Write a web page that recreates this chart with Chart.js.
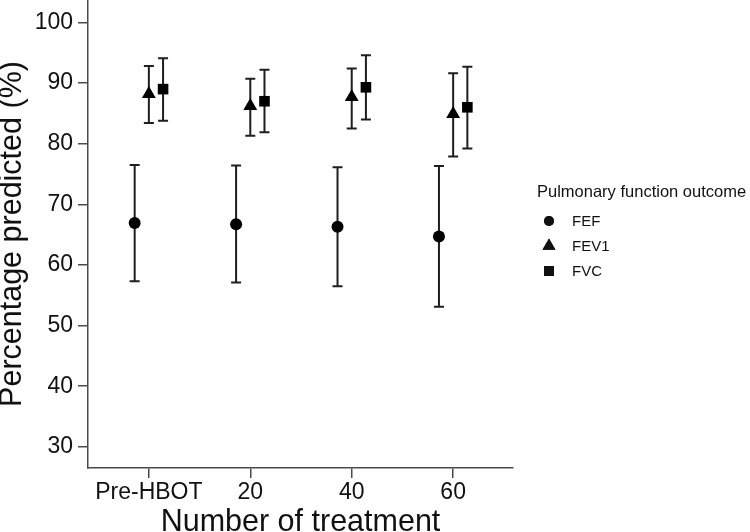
<!DOCTYPE html>
<html>
<head>
<meta charset="utf-8">
<script src="https://cdn.jsdelivr.net/npm/chart.js@4"></script>
<style>
  html, body { margin: 0; padding: 0; background: #fff; }
</style>
</head>
<body>
<canvas id="chart" width="750" height="532"></canvas>
<script>
const categories = ['Pre-HBOT', '20', '40', '60'];
const yTicks = [30, 40, 50, 60, 70, 80, 90, 100];

const fefMean = [66.9, 66.7, 66.3, 64.7];
const fefLow  = [57.3, 57.1, 56.5, 53.1];
const fefHigh = [76.5, 76.4, 76.1, 76.3];

const fev1Mean = [88.2, 86.2, 87.7, 84.9];
const fev1Low  = [83.4, 81.3, 82.5, 77.9];
const fev1High = [92.8, 90.7, 92.4, 91.6];

const fvcMean = [89.0, 87.0, 89.3, 86.0];
const fvcLow  = [83.8, 81.9, 84.0, 79.2];
const fvcHigh = [94.1, 92.2, 94.6, 92.7];

// horizontal dodge so the three groups don't overlap
const dodge = { FEF: -0.14, FEV1: 0, FVC: 0.14 };

const FONT = "'Liberation Sans', Arial, sans-serif";
const AXIS = '#4a4a4a';

function toPoints(mean, dx) {
    return mean.map((v, i) => ({ x: i + dx, y: v }));
}

// error bars drawn behind the markers
const errorBars = {
    id: 'errorBars',
    beforeDatasetsDraw(chart) {
        const ctx = chart.ctx;
        const xs = chart.scales.x, ys = chart.scales.y;
        ctx.save();
        ctx.strokeStyle = '#1e1e1e';
        ctx.lineWidth = 2;
        chart.data.datasets.forEach(ds => {
            ds.data.forEach((p, j) => {
                const x = xs.getPixelForValue(p.x);
                const lo = ys.getPixelForValue(ds.low[j]);
                const hi = ys.getPixelForValue(ds.high[j]);
                ctx.beginPath();
                ctx.moveTo(x, lo); ctx.lineTo(x, hi);
                ctx.moveTo(x - 5, lo); ctx.lineTo(x + 5, lo);
                ctx.moveTo(x - 5, hi); ctx.lineTo(x + 5, hi);
                ctx.stroke();
            });
        });
        ctx.restore();
    }
};

// y title drawn by hand so it can sit close to the canvas edge
const yTitle = {
    id: 'yTitle',
    afterDraw(chart) {
        const ctx = chart.ctx;
        const a = chart.chartArea;
        ctx.save();
        ctx.translate(13, (a.top + a.bottom) / 2);
        ctx.rotate(-Math.PI / 2);
        ctx.font = '30.5px ' + FONT;
        ctx.fillStyle = '#111';
        ctx.textAlign = 'center';
        ctx.textBaseline = 'middle';
        ctx.fillText('Percentage predicted (%)', 0, 0);
        ctx.restore();
    }
};

// legend to the right of the plot
const sideLegend = {
    id: 'sideLegend',
    afterDraw(chart) {
        const ctx = chart.ctx;
        ctx.save();
        ctx.fillStyle = '#111';
        ctx.textBaseline = 'alphabetic';
        ctx.font = '16.5px ' + FONT;
        ctx.fillText('Pulmonary function outcome', 537, 197);
        ctx.font = '15px ' + FONT;
        ctx.textBaseline = 'middle';
        chart.data.datasets.forEach((ds, i) => {
            const y = 221 + i * 25;
            Chart.helpers.drawPoint(ctx, {
                pointStyle: ds.pointStyle,
                radius: ds.legendRadius,
                borderWidth: 0
            }, 549, y);
            ctx.fillStyle = '#111';
            ctx.fill();
            ctx.fillText(ds.label, 572, y + 1);
        });
        ctx.restore();
    }
};

new Chart(document.getElementById('chart'), {
    type: 'scatter',
    data: {
        datasets: [
            { label: 'FEF', data: toPoints(fefMean, dodge.FEF), low: fefLow, high: fefHigh,
              pointStyle: 'circle', pointRadius: 6, legendRadius: 5 },
            { label: 'FEV1', data: toPoints(fev1Mean, dodge.FEV1), low: fev1Low, high: fev1High,
              pointStyle: 'triangle', pointRadius: 8, legendRadius: 7.5 },
            { label: 'FVC', data: toPoints(fvcMean, dodge.FVC), low: fvcLow, high: fvcHigh,
              pointStyle: 'rect', pointRadius: 7.5, legendRadius: 7 }
        ].map(d => Object.assign(d, {
            backgroundColor: '#000',
            borderColor: '#000',
            borderWidth: 0,
            pointHoverRadius: d.pointRadius
        }))
    },
    options: {
        responsive: false,
        animation: false,
        devicePixelRatio: 1,
        layout: { padding: { left: 0, top: 0, right: 237, bottom: 0 }, autoPadding: false },
        plugins: { legend: { display: false }, tooltip: { enabled: false } },
        scales: {
            x: {
                type: 'linear',
                min: -0.6,
                max: 3.59,
                afterBuildTicks: s => { s.ticks = categories.map((c, i) => ({ value: i })); },
                afterFit: s => { s.height = 64; s.paddingLeft = 0; s.paddingRight = 0; },
                ticks: {
                    callback: v => categories[v],
                    color: '#111',
                    font: { family: FONT, size: 23 },
                    padding: 1,
                    maxRotation: 0
                },
                grid: { drawOnChartArea: false, drawTicks: true, tickLength: 10, color: AXIS, lineWidth: 1.5 },
                border: { display: true, color: AXIS, width: 1.5 },
                title: {
                    display: true,
                    text: 'Number of treatment',
                    color: '#111',
                    font: { family: FONT, size: 30.5, lineHeight: 0.6 },
                    padding: 0
                }
            },
            y: {
                min: 26.5,
                max: 103.7,
                afterBuildTicks: s => { s.ticks = yTicks.map(v => ({ value: v })); },
                afterFit: s => { s.width = 88; s.paddingTop = 0; s.paddingBottom = 0; },
                ticks: {
                    color: '#111',
                    font: { family: FONT, size: 23 },
                    padding: 5
                },
                grid: { drawOnChartArea: false, drawTicks: true, tickLength: 10, color: AXIS, lineWidth: 1.5 },
                border: { display: true, color: AXIS, width: 1.5 },
                title: { display: false }
            }
        }
    },
    plugins: [errorBars, yTitle, sideLegend]
});
</script>
</body>
</html>
